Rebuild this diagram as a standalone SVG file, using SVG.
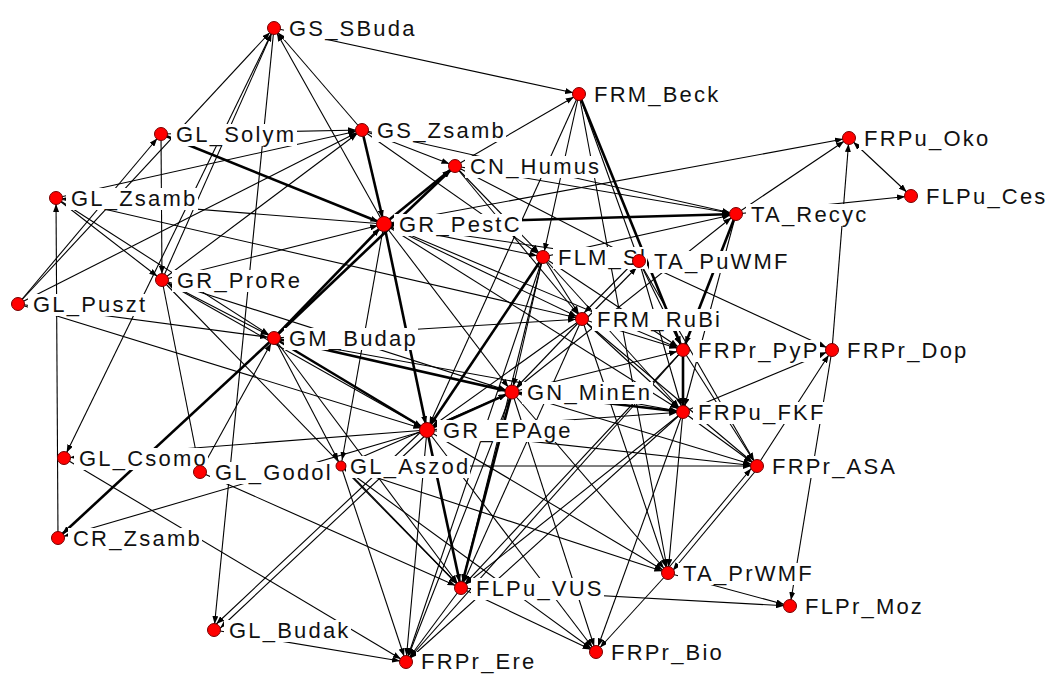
<svg xmlns="http://www.w3.org/2000/svg" width="1054" height="675" viewBox="0 0 1054 675">
<style>
.e{stroke:#000;stroke-width:1.1;fill:none;marker-end:url(#ah)}
.t{stroke-width:2.6}
.b{marker-start:url(#as)}
.lb{fill:#fff}
.nd{fill:#f00;stroke:#700;stroke-width:1}
text{font-family:"Liberation Sans",Arial,sans-serif;font-size:22px;letter-spacing:2.2px;fill:#111}
</style>
<defs>
<marker id="ah" viewBox="0 0 8 6" refX="14" refY="3" markerWidth="8" markerHeight="6" markerUnits="userSpaceOnUse" orient="auto"><path d="M0,0L8,3L0,6z"/></marker>
<marker id="as" viewBox="0 0 8 6" refX="14" refY="3" markerWidth="8" markerHeight="6" markerUnits="userSpaceOnUse" orient="auto-start-reverse"><path d="M0,0L8,3L0,6z"/></marker>
</defs>
<rect width="1054" height="675" fill="#fff"/>
<g id="connectors">
<line class="e" x1="274" y1="28" x2="579" y2="94"/>
<line class="e" x1="362" y1="130" x2="274" y2="28"/>
<line class="e" x1="384" y1="224" x2="274" y2="28"/>
<line class="e" x1="18" y1="304" x2="274" y2="28"/>
<line class="e" x1="162" y1="280" x2="274" y2="28"/>
<line class="e" x1="274" y1="28" x2="214" y2="630"/>
<line class="e" x1="274" y1="28" x2="64" y2="458"/>
<line class="e t" x1="362" y1="130" x2="384" y2="224"/>
<line class="e t" x1="161" y1="134" x2="384" y2="224"/>
<line class="e" x1="161" y1="134" x2="162" y2="280"/>
<line class="e" x1="56" y1="198" x2="362" y2="130"/>
<line class="e" x1="18" y1="304" x2="362" y2="130"/>
<line class="e" x1="162" y1="280" x2="362" y2="130"/>
<line class="e" x1="56" y1="198" x2="162" y2="280"/>
<line class="e" x1="58" y1="538" x2="56" y2="198"/>
<line class="e" x1="18" y1="304" x2="161" y2="134"/>
<line class="e" x1="18" y1="304" x2="427" y2="430"/>
<line class="e" x1="384" y1="224" x2="56" y2="198"/>
<line class="e" x1="455" y1="166" x2="579" y2="94"/>
<line class="e" x1="579" y1="94" x2="427" y2="430"/>
<line class="e" x1="579" y1="94" x2="543" y2="257"/>
<line class="e" x1="579" y1="94" x2="668" y2="573"/>
<line class="e t" x1="579" y1="94" x2="683" y2="350"/>
<line class="e" x1="579" y1="94" x2="639" y2="261"/>
<line class="e t" x1="384" y1="224" x2="736" y2="214"/>
<line class="e" x1="455" y1="166" x2="736" y2="214"/>
<line class="e" x1="362" y1="130" x2="736" y2="214"/>
<line class="e" x1="384" y1="224" x2="849" y2="138"/>
<line class="e" x1="736" y1="214" x2="849" y2="138"/>
<line class="e" x1="736" y1="214" x2="911" y2="196"/>
<line class="e b" x1="849" y1="138" x2="911" y2="196"/>
<line class="e" x1="832" y1="350" x2="849" y2="138"/>
<line class="e" x1="639" y1="261" x2="832" y2="350"/>
<line class="e" x1="757" y1="466" x2="832" y2="350"/>
<line class="e" x1="683" y1="412" x2="832" y2="350"/>
<line class="e" x1="832" y1="350" x2="790" y2="606"/>
<line class="e t" x1="384" y1="224" x2="455" y2="166"/>
<line class="e" x1="161" y1="134" x2="362" y2="130"/>
<line class="e" x1="362" y1="130" x2="455" y2="166"/>
<line class="e t" x1="274" y1="338" x2="455" y2="166"/>
<line class="e t" x1="274" y1="338" x2="58" y2="538"/>
<line class="e" x1="384" y1="224" x2="543" y2="257"/>
<line class="e" x1="384" y1="224" x2="582" y2="319"/>
<line class="e t" x1="274" y1="338" x2="384" y2="224"/>
<line class="e t" x1="384" y1="224" x2="427" y2="430"/>
<line class="e" x1="384" y1="224" x2="512" y2="392"/>
<line class="e" x1="384" y1="224" x2="683" y2="350"/>
<line class="e" x1="384" y1="224" x2="683" y2="412"/>
<line class="e" x1="384" y1="224" x2="341" y2="466"/>
<line class="e" x1="162" y1="280" x2="384" y2="224"/>
<line class="e" x1="384" y1="224" x2="639" y2="261"/>
<line class="e t" x1="274" y1="338" x2="427" y2="430"/>
<line class="e t" x1="274" y1="338" x2="512" y2="392"/>
<line class="e" x1="274" y1="338" x2="683" y2="412"/>
<line class="e" x1="18" y1="304" x2="274" y2="338"/>
<line class="e" x1="200" y1="472" x2="274" y2="338"/>
<line class="e" x1="162" y1="280" x2="274" y2="338"/>
<line class="e" x1="274" y1="338" x2="461" y2="588"/>
<line class="e" x1="56" y1="198" x2="274" y2="338"/>
<line class="e" x1="274" y1="338" x2="582" y2="319"/>
<line class="e t" x1="427" y1="430" x2="512" y2="392"/>
<line class="e" x1="582" y1="319" x2="512" y2="392"/>
<line class="e" x1="543" y1="257" x2="512" y2="392"/>
<line class="e" x1="512" y1="392" x2="683" y2="350"/>
<line class="e t" x1="512" y1="392" x2="683" y2="412"/>
<line class="e t" x1="512" y1="392" x2="461" y2="588"/>
<line class="e" x1="512" y1="392" x2="406" y2="662"/>
<line class="e" x1="512" y1="392" x2="736" y2="214"/>
<line class="e" x1="512" y1="392" x2="757" y2="466"/>
<line class="e" x1="341" y1="466" x2="512" y2="392"/>
<line class="e" x1="512" y1="392" x2="668" y2="573"/>
<line class="e" x1="162" y1="280" x2="512" y2="392"/>
<line class="e" x1="543" y1="257" x2="582" y2="319"/>
<line class="e" x1="584" y1="321" x2="641" y2="263"/>
<line class="e" x1="637" y1="259" x2="580" y2="317"/>
<line class="e" x1="582" y1="319" x2="683" y2="350"/>
<line class="e" x1="582" y1="319" x2="683" y2="412"/>
<line class="e" x1="582" y1="319" x2="427" y2="430"/>
<line class="e" x1="582" y1="319" x2="757" y2="466"/>
<line class="e" x1="582" y1="319" x2="668" y2="573"/>
<line class="e" x1="582" y1="319" x2="461" y2="588"/>
<line class="e" x1="455" y1="166" x2="582" y2="319"/>
<line class="e" x1="56" y1="198" x2="582" y2="319"/>
<line class="e" x1="455" y1="166" x2="543" y2="257"/>
<line class="e" x1="543" y1="257" x2="736" y2="214"/>
<line class="e t" x1="543" y1="257" x2="427" y2="430"/>
<line class="e" x1="543" y1="257" x2="461" y2="588"/>
<line class="e" x1="543" y1="257" x2="406" y2="662"/>
<line class="e" x1="543" y1="257" x2="683" y2="412"/>
<line class="e" x1="543" y1="257" x2="683" y2="350"/>
<line class="e t" x1="683" y1="350" x2="683" y2="412"/>
<line class="e" x1="683" y1="412" x2="757" y2="466"/>
<line class="e" x1="683" y1="412" x2="668" y2="573"/>
<line class="e" x1="683" y1="412" x2="461" y2="588"/>
<line class="e" x1="683" y1="412" x2="406" y2="662"/>
<line class="e" x1="427" y1="430" x2="683" y2="412"/>
<line class="e" x1="639" y1="261" x2="683" y2="412"/>
<line class="e" x1="683" y1="412" x2="596" y2="652"/>
<line class="e" x1="639" y1="261" x2="683" y2="350"/>
<line class="e" x1="683" y1="350" x2="757" y2="466"/>
<line class="e" x1="683" y1="350" x2="461" y2="588"/>
<line class="e t" x1="736" y1="214" x2="683" y2="350"/>
<line class="e" x1="683" y1="350" x2="406" y2="662"/>
<line class="e" x1="758" y1="468" x2="669" y2="575"/>
<line class="e" x1="666" y1="571" x2="755" y2="464"/>
<line class="e" x1="427" y1="430" x2="757" y2="466"/>
<line class="e" x1="341" y1="466" x2="757" y2="466"/>
<line class="e" x1="639" y1="261" x2="757" y2="466"/>
<line class="e" x1="668" y1="573" x2="790" y2="606"/>
<line class="e" x1="668" y1="573" x2="596" y2="652"/>
<line class="e" x1="427" y1="430" x2="668" y2="573"/>
<line class="e" x1="341" y1="466" x2="668" y2="573"/>
<line class="e" x1="461" y1="588" x2="790" y2="606"/>
<line class="e" x1="461" y1="588" x2="596" y2="652"/>
<line class="e" x1="461" y1="588" x2="406" y2="662"/>
<line class="e t" x1="427" y1="430" x2="461" y2="588"/>
<line class="e" x1="200" y1="472" x2="461" y2="588"/>
<line class="e" x1="162" y1="280" x2="461" y2="588"/>
<line class="e" x1="341" y1="466" x2="461" y2="588"/>
<line class="e" x1="214" y1="630" x2="406" y2="662"/>
<line class="e" x1="427" y1="430" x2="406" y2="662"/>
<line class="e" x1="341" y1="466" x2="406" y2="662"/>
<line class="e" x1="64" y1="458" x2="406" y2="662"/>
<line class="e" x1="427" y1="430" x2="596" y2="652"/>
<line class="e" x1="341" y1="466" x2="596" y2="652"/>
<line class="e" x1="512" y1="392" x2="596" y2="652"/>
<line class="e" x1="429" y1="432" x2="216" y2="632"/>
<line class="e" x1="425" y1="428" x2="212" y2="628"/>
<line class="e" x1="427" y1="430" x2="64" y2="458"/>
<line class="e" x1="162" y1="280" x2="200" y2="472"/>
<line class="e" x1="427" y1="430" x2="58" y2="538"/>
<line class="e" x1="274" y1="338" x2="341" y2="466"/>
<line class="e" x1="455" y1="166" x2="639" y2="261"/>
<line class="e" x1="362" y1="130" x2="543" y2="257"/>
<line class="e" x1="736" y1="214" x2="683" y2="412"/>
<line class="e" x1="427" y1="430" x2="162" y2="280"/>
</g>
<g id="n-GS_SBuda"><rect class="lb" x="284" y="18" width="133" height="22"/><text x="289" y="36">GS_SBuda</text><circle class="nd" cx="274" cy="28" r="6.5"/></g>
<g id="n-FRM_Beck"><rect class="lb" x="589" y="84" width="132" height="22"/><text x="594" y="102">FRM_Beck</text><circle class="nd" cx="579" cy="94" r="6.5"/></g>
<g id="n-GL_Solym"><rect class="lb" x="171" y="124" width="126" height="22"/><text x="176" y="142">GL_Solym</text><circle class="nd" cx="161" cy="134" r="6.5"/></g>
<g id="n-GS_Zsamb"><rect class="lb" x="372" y="120" width="134" height="22"/><text x="377" y="138">GS_Zsamb</text><circle class="nd" cx="362" cy="130" r="6.5"/></g>
<g id="n-FRPu_Oko"><rect class="lb" x="859" y="128" width="132" height="22"/><text x="864" y="146">FRPu_Oko</text><circle class="nd" cx="849" cy="138" r="6.5"/></g>
<g id="n-CN_Humus"><rect class="lb" x="465" y="156" width="136" height="22"/><text x="470" y="174">CN_Humus</text><circle class="nd" cx="455" cy="166" r="6.5"/></g>
<g id="n-GL_Zsamb"><rect class="lb" x="66" y="188" width="132" height="22"/><text x="71" y="206">GL_Zsamb</text><circle class="nd" cx="56" cy="198" r="6.5"/></g>
<g id="n-GR_PestC"><rect class="lb" x="394" y="214" width="128" height="22"/><text x="399" y="232">GR_PestC</text><circle class="nd" cx="384" cy="224" r="7.5"/></g>
<g id="n-TA_Recyc"><rect class="lb" x="746" y="204" width="125" height="22"/><text x="751" y="222">TA_Recyc</text><circle class="nd" cx="736" cy="214" r="6.5"/></g>
<g id="n-FLPu_Ces"><rect class="lb" x="921" y="186" width="127" height="22"/><text x="926" y="204">FLPu_Ces</text><circle class="nd" cx="911" cy="196" r="6.5"/></g>
<g id="n-FLM_Sl"><rect class="lb" x="553" y="247" width="94" height="22"/><text x="558" y="265">FLM_Sl</text><circle class="nd" cx="543" cy="257" r="6.5"/></g>
<g id="n-TA_PuWMF"><rect class="lb" x="649" y="251" width="142" height="22"/><text x="654" y="269">TA_PuWMF</text><circle class="nd" cx="639" cy="261" r="6.5"/></g>
<g id="n-GR_ProRe"><rect class="lb" x="172" y="270" width="131" height="22"/><text x="177" y="288">GR_ProRe</text><circle class="nd" cx="162" cy="280" r="6.5"/></g>
<g id="n-GL_Puszt"><rect class="lb" x="28" y="294" width="120" height="22"/><text x="33" y="312">GL_Puszt</text><circle class="nd" cx="18" cy="304" r="6.5"/></g>
<g id="n-GM_Budap"><rect class="lb" x="284" y="328" width="134" height="22"/><text x="289" y="346">GM_Budap</text><circle class="nd" cx="274" cy="338" r="6.5"/></g>
<g id="n-FRM_RuBi"><rect class="lb" x="592" y="309" width="131" height="22"/><text x="597" y="327">FRM_RuBi</text><circle class="nd" cx="582" cy="319" r="6.5"/></g>
<g id="n-FRPr_PyP"><rect class="lb" x="693" y="340" width="127" height="22"/><text x="698" y="358">FRPr_PyP</text><circle class="nd" cx="683" cy="350" r="6.5"/></g>
<g id="n-FRPr_Dop"><rect class="lb" x="842" y="340" width="127" height="22"/><text x="847" y="358">FRPr_Dop</text><circle class="nd" cx="832" cy="350" r="6.5"/></g>
<g id="n-GN_MinEn"><rect class="lb" x="522" y="382" width="131" height="22"/><text x="527" y="400">GN_MinEn</text><circle class="nd" cx="512" cy="392" r="7"/></g>
<g id="n-FRPu_FKF"><rect class="lb" x="693" y="402" width="133" height="22"/><text x="698" y="420">FRPu_FKF</text><circle class="nd" cx="683" cy="412" r="6.5"/></g>
<g id="n-GR_EPAge"><rect class="lb" x="437" y="420" width="137" height="22"/><text x="443" y="438">GR_EPAge</text><circle class="nd" cx="427" cy="430" r="7.5"/></g>
<g id="n-GL_Csomo"><rect class="lb" x="74" y="448" width="134" height="22"/><text x="79" y="466">GL_Csomo</text><circle class="nd" cx="64" cy="458" r="6.5"/></g>
<g id="n-GL_Godol"><rect class="lb" x="210" y="462" width="124" height="22"/><text x="215" y="480">GL_Godol</text><circle class="nd" cx="200" cy="472" r="6.5"/></g>
<g id="n-GL_Aszod"><rect class="lb" x="346" y="456" width="124" height="22"/><text x="350" y="474">GL_Aszod</text><circle class="nd" cx="341" cy="466" r="5"/></g>
<g id="n-FRPr_ASA"><rect class="lb" x="767" y="456" width="131" height="22"/><text x="772" y="474">FRPr_ASA</text><circle class="nd" cx="757" cy="466" r="6.5"/></g>
<g id="n-CR_Zsamb"><rect class="lb" x="68" y="528" width="134" height="22"/><text x="73" y="546">CR_Zsamb</text><circle class="nd" cx="58" cy="538" r="6.5"/></g>
<g id="n-TA_PrWMF"><rect class="lb" x="678" y="563" width="138" height="22"/><text x="683" y="581">TA_PrWMF</text><circle class="nd" cx="668" cy="573" r="6.5"/></g>
<g id="n-FLPu_VUS"><rect class="lb" x="471" y="578" width="133" height="22"/><text x="476" y="596">FLPu_VUS</text><circle class="nd" cx="461" cy="588" r="6.5"/></g>
<g id="n-FLPr_Moz"><rect class="lb" x="800" y="596" width="125" height="22"/><text x="805" y="614">FLPr_Moz</text><circle class="nd" cx="790" cy="606" r="6.5"/></g>
<g id="n-GL_Budak"><rect class="lb" x="224" y="620" width="127" height="22"/><text x="229" y="638">GL_Budak</text><circle class="nd" cx="214" cy="630" r="6.5"/></g>
<g id="n-FRPr_Ere"><rect class="lb" x="416" y="652" width="121" height="22"/><text x="421" y="669">FRPr_Ere</text><circle class="nd" cx="406" cy="662" r="6.5"/></g>
<g id="n-FRPr_Bio"><rect class="lb" x="606" y="642" width="119" height="22"/><text x="611" y="660">FRPr_Bio</text><circle class="nd" cx="596" cy="652" r="6.5"/></g>
</svg>
